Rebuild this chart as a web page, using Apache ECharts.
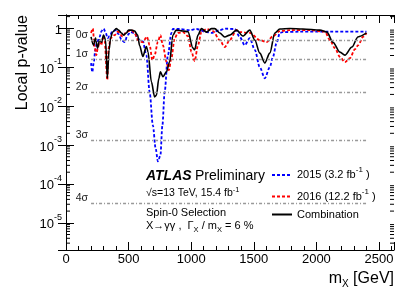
<!DOCTYPE html>
<html>
<head>
<meta charset="utf-8">
<script src="https://cdn.jsdelivr.net/npm/echarts@6/dist/echarts.min.js"></script>
<style>
html,body{margin:0;padding:0;background:#fff;}
#chart{width:415px;height:299px;}
</style>
</head>
<body>
<div id="chart"></div>
<script>
// ---- data ----
const comboMass = [200,220,236,252,268,284,300,316,330,344,356,372,402,420,442,460,482,500,522,548,572,588,614,642,655,682,708,722,742,754,774,802,828,854,880,934,974,1014,1028,1054,1082,1122,1162,1188,1228,1268,1308,1362,1414,1468,1508,1548,1588,1628,1668,1708,1788,1892,2028,2084,2132,2188,2228,2284,2332,2400];
const comboP = [0.60,0.37,0.56,0.31,0.50,0.44,0.67,0.50,0.052,0.28,0.56,0.80,0.98,0.90,0.76,0.67,0.76,0.90,0.90,0.85,0.67,0.36,0.19,0.34,0.25,0.042,0.0173,0.019,0.052,0.076,0.057,0.076,0.138,0.67,0.90,0.85,0.82,0.31,0.28,0.67,0.98,0.80,0.98,0.98,0.76,0.60,0.67,0.90,0.63,0.90,0.50,0.23,0.128,0.23,0.76,0.96,0.99,0.96,0.90,0.80,0.44,0.245,0.205,0.33,0.60,0.76];

const mass2015 = [200,210,222,234,246,268,284,300,316,332,348,372,396,420,444,468,492,516,548,572,588,614,642,668,694,716,734,754,770,788,814,842,854,908,988,1042,1122,1162,1228,1268,1348,1388,1428,1468,1508,1548,1588,1628,1652,1682,1708,1732,1868,2108,2400];
const p2015 = [0.128,0.075,0.135,0.28,0.42,0.60,0.85,0.98,0.80,0.56,0.63,0.85,0.90,0.71,0.50,0.44,0.67,0.80,0.76,0.56,0.50,0.46,0.205,0.023,0.0032,0.00082,0.00038,0.00054,0.0032,0.023,0.205,0.76,0.96,0.96,0.90,0.96,0.80,0.76,0.90,0.98,0.96,0.60,0.37,0.56,0.28,0.10,0.052,0.10,0.18,0.42,0.76,0.80,0.82,0.82,0.82];

const mass2016 = [200,214,228,242,254,268,282,294,308,330,340,356,388,414,454,482,522,548,574,614,646,668,690,708,734,754,774,802,822,842,868,894,934,974,1002,1028,1054,1082,1122,1174,1228,1268,1308,1362,1388,1468,1548,1602,1654,1708,1788,1948,2068,2108,2148,2188,2228,2268,2308,2334,2374,2400];
const p2016 = [0.76,0.99,0.336,0.205,0.31,0.45,0.37,0.56,0.50,0.047,0.31,0.55,0.67,0.82,0.61,0.82,0.90,0.76,0.50,0.44,0.61,0.37,0.152,0.205,0.45,0.67,0.37,0.138,0.084,0.172,0.56,0.76,0.80,0.63,0.25,0.144,0.37,0.80,0.96,0.85,0.50,0.33,0.50,0.90,0.80,0.76,0.50,0.44,0.63,0.85,0.90,0.90,0.82,0.50,0.31,0.185,0.135,0.172,0.29,0.37,0.61,0.76];

const sigmaLevels = [0.5, 0.1587, 0.02275, 0.00135, 3.167e-5];
const sigmaLabels = ['0σ','1σ','2σ','3σ','4σ'];
const sigmaFrom = 200, sigmaTo = 2400;

const xTickLabels = ['0','500','1000','1500','2000','2500'];
const legendNames = ['2015','2016','Combination'];
const legendTexts = {'2015':'{n|2015 (3.2 fb}{s|-1}{n| )}','2016':'{n|2016 (12.2 fb}{s|-1}{n| )}','Combination':'{n|Combination}'};

// ---- axis ranges ----
const X_MIN = 0, X_MAX = 2620, Y_MIN = 2e-6, Y_MAX = 2.2;
const FONT = 'Liberation Sans, Arial, Helvetica, sans-serif';

function zip(a, b){ return a.map((v,i)=>[v,b[i]]); }

// minor log ticks (2..9 per decade)
const logMinor = [];
for (let e = -6; e <= 0; e++) {
  for (let m = 2; m <= 9; m++) {
    const v = m * Math.pow(10, e);
    if (v > Y_MIN && v < Y_MAX) logMinor.push([X_MIN, v]);
  }
}

const chart = echarts.init(document.getElementById('chart'), null, {renderer:'canvas'});

const axisLineStyle = {show:true, lineStyle:{color:'#000', width:1}};
function xAx(pos, interval, len, labels){
  return {
    type:'value', min:X_MIN, max:X_MAX, interval:interval, position:pos,
    axisLine: (len===8)? axisLineStyle : {show:false},
    axisTick:{show:true, inside:true, length:len, lineStyle:{color:'#000', width:1}},
    axisLabel: labels ? {show:true, fontSize:13, color:'#000', fontFamily:FONT, margin:3,
      formatter: v => (xTickLabels.indexOf(String(v))>=0 ? String(v) : '')} : {show:false},
    splitLine:{show:false}
  };
}
function yAx(pos, labels){
  return {
    type:'log', logBase:10, min:Y_MIN, max:Y_MAX, position:pos,
    axisLine: axisLineStyle,
    axisTick:{show:true, inside:true, length:8, lineStyle:{color:'#000', width:1}},
    axisLabel: labels ? {show:true, color:'#000', margin:4,
      formatter: function(v){
        const l = Math.log10(v), r = Math.round(l);
        if (Math.abs(l-r) > 1e-6) return '';
        if (r === 0) return '{n|1}';
        return '{n|10}{s|' + r + '}';
      },
      rich:{ n:{fontSize:13, fontFamily:FONT, color:'#000', lineHeight:20, padding:[4,0,0,0]},
             s:{fontSize:9, fontFamily:FONT, color:'#000', lineHeight:9, verticalAlign:'top'} }
    } : {show:false},
    splitLine:{show:false}
  };
}

const sigmaMarkData = sigmaLevels.map((p,i)=>[
  {coord:[sigmaFrom,p], name:sigmaLabels[i]},
  {coord:[sigmaTo,p]}
]);

const option = {
  animation:false,
  backgroundColor:'#fff',
  grid:{left:66, right:21, top:15, bottom:49, containLabel:false},
  xAxis:[ xAx('bottom',500,8,true), xAx('bottom',100,4,false), xAx('top',500,8,false), xAx('top',100,4,false) ],
  yAxis:[ yAx('left',true), yAx('right',false) ],
  legend:{
    data:legendNames, orient:'vertical', left:266, top:161,
    itemWidth:20, itemHeight:10, itemGap:7, itemStyle:{opacity:0},
    formatter: n => legendTexts[n],
    textStyle:{fontFamily:FONT, color:'#000',
      rich:{ n:{fontSize:11, fontFamily:FONT, color:'#000', lineHeight:18},
             s:{fontSize:8, fontFamily:FONT, color:'#000', lineHeight:9, verticalAlign:'top'} } },
    selectedMode:false
  },
  graphic:[
    {type:'text', left:146, top:169, style:{text:'{b|ATLAS} {n|Preliminary}', rich:{
      b:{fontSize:14, fontWeight:'bold', fontStyle:'italic', fontFamily:FONT, fill:'#000'},
      n:{fontSize:14, fontFamily:FONT, fill:'#000'} }}},
    {type:'text', left:146, top:186, style:{text:'{n|√s=13 TeV, 15.4 fb}{s|-1}', rich:{
      n:{fontSize:10.5, fontFamily:FONT, fill:'#000', lineHeight:15},
      s:{fontSize:7.5, fontFamily:FONT, fill:'#000', lineHeight:8, verticalAlign:'top'} }}},
    {type:'text', left:146, top:207, style:{text:'Spin-0 Selection', fontSize:11, fontFamily:FONT, fill:'#000'}},
    {type:'text', left:146, top:220, style:{text:'{n|X→γγ ,  Γ}{b|X}{n| / m}{b|X}{n| = 6 %}', rich:{
      n:{fontSize:11, fontFamily:FONT, fill:'#000', lineHeight:16},
      b:{fontSize:7.5, fontFamily:FONT, fill:'#000', lineHeight:8, verticalAlign:'bottom'} }}},
    {type:'text', x:23, y:15, rotation:Math.PI/2, style:{text:'Local p-value', fontSize:16, fontFamily:FONT, fill:'#000', align:'right', verticalAlign:'middle'}},
    {type:'text', x:394, y:279, style:{text:'{n|m}{b|X}{n| [GeV]}', align:'right', verticalAlign:'middle', rich:{
      n:{fontSize:16, fontFamily:FONT, fill:'#000', lineHeight:20},
      b:{fontSize:10, fontFamily:FONT, fill:'#000', lineHeight:10, verticalAlign:'bottom'} }}}
  ],
  series:[
    {
      name:'sigma', type:'line', data:[], xAxisIndex:0, yAxisIndex:0, symbol:'none', silent:true,
      markLine:{
        silent:true, symbol:['none','none'],
        lineStyle:{color:'#999', width:1.3, type:[3,2,1,2]},
        label:{show:true, position:'start', formatter:'{b}', fontSize:10.5, fontFamily:FONT, color:'#222', distance:3, offset:[0,-5]},
        emphasis:{disabled:true},
        data:sigmaMarkData
      }
    },
    {
      name:'2015', type:'line', data:zip(mass2015,p2015), symbol:'none', smooth:0.3, smoothMonotone:'x',
      lineStyle:{color:'#0000ff', width:1.8, type:[3,2]}, itemStyle:{color:'#0000ff'}, z:3
    },
    {
      name:'2016', type:'line', data:zip(mass2016,p2016), symbol:'none', smooth:0.3, smoothMonotone:'x',
      lineStyle:{color:'#ff0000', width:1.8, type:[3,2]}, itemStyle:{color:'#ff0000'}, z:3
    },
    {
      name:'Combination', type:'line', data:zip(comboMass,comboP), symbol:'none', smooth:0.3, smoothMonotone:'x',
      lineStyle:{color:'#000', width:1.6, type:'solid'}, itemStyle:{color:'#000'}, z:4
    },
    {
      name:'logMinorTicks', type:'custom', data:logMinor, silent:true, clip:false,
      renderItem:function(params, api){
        const v = api.value(1);
        const l = api.coord([X_MIN, v]);
        const r = api.coord([X_MAX, v]);
        const st = {stroke:'#000', lineWidth:1};
        return {type:'group', children:[
          {type:'line', shape:{x1:l[0], y1:l[1], x2:l[0]+4, y2:l[1]}, style:st},
          {type:'line', shape:{x1:r[0], y1:r[1], x2:r[0]-4, y2:r[1]}, style:st}
        ]};
      }
    }
  ]
};
chart.setOption(option);
</script>
</body>
</html>
